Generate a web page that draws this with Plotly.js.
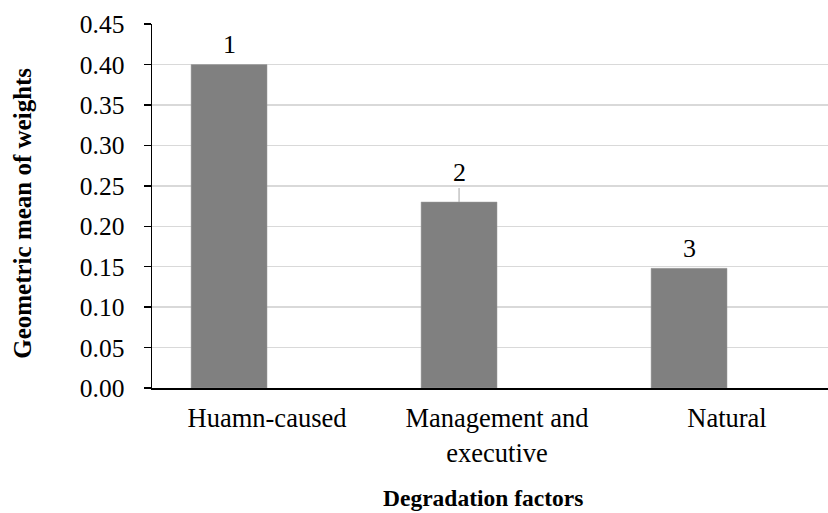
<!DOCTYPE html>
<html>
<head>
<meta charset="utf-8">
<script src="https://cdn.plot.ly/plotly-3.0.1.min.js"></script>
<style>html,body{margin:0;padding:0;background:#fff;}#chart{width:828px;height:513px;}</style>
</head>
<body>
<div id="chart"></div>
<script>
// Data
const categories = ["Huamn-caused", "Management and<br>executive", "Natural"];
const values = [0.40, 0.23, 0.148];
const ranks = ["1", "2", "3"];
const yTickVals = [0, 0.05, 0.10, 0.15, 0.20, 0.25, 0.30, 0.35, 0.40, 0.45];
const yTickText = ["0.00", "0.05", "0.10", "0.15", "0.20", "0.25", "0.30", "0.35", "0.40", "0.45"];
const xTitle = "Degradation factors";
const yTitle = "Geometric mean of weights";

const xs = categories.map((c, i) => i);
const barW = 0.33;
const font = "Liberation Serif, Times New Roman, serif";

const trace = {
  type: "bar",
  x: xs,
  y: values,
  width: barW,
  offset: -barW,
  marker: { color: "#808080", line: { color: "#9a9a9a", width: 0.5 } },
  hoverinfo: "skip"
};

const annotations = values.map((v, i) => {
  const base = {
    x: xs[i] - barW / 2, y: v, xref: "x", yref: "y",
    text: ranks[i],
    font: { family: font, size: 26, color: "#000" }
  };
  if (i === 1) {
    return Object.assign(base, {
      showarrow: true, arrowhead: 0, arrowwidth: 1, arrowcolor: "#a6a6a6",
      ax: 0, ay: -30, standoff: 0, startstandoff: 0
    });
  }
  return Object.assign(base, { showarrow: false, yanchor: "middle", yshift: 20 });
});

annotations.push({
  xref: "paper", yref: "paper", x: 0.49, y: 0, yshift: -110,
  xanchor: "center", yanchor: "middle", showarrow: false,
  text: "<b>" + xTitle + "</b>",
  font: { family: font, size: 23.5, color: "#000" }
});
annotations.push({
  xref: "paper", yref: "paper", x: 0, y: 0.48, xshift: -129.5,
  xanchor: "center", yanchor: "middle", showarrow: false, textangle: -90,
  text: "<b>" + yTitle + "</b>",
  font: { family: font, size: 25, color: "#000" }
});

const layout = {
  width: 828, height: 513,
  margin: { l: 152, r: 0, t: 24, b: 125 },
  paper_bgcolor: "#fff", plot_bgcolor: "#fff",
  showlegend: false,
  font: { family: font, color: "#000" },
  xaxis: {
    range: [-0.5, -0.5 + 676 / 230],
    tickmode: "array", tickvals: xs, ticktext: categories,
    tickfont: { family: font, size: 26.5, color: "#000" },
    showgrid: false, zeroline: false,
    showline: true, linecolor: "#000", linewidth: 1.5,
    ticks: "", ticklabelstandoff: 6
  },
  yaxis: {
    range: [0, 0.4502],
    tickmode: "array", tickvals: yTickVals, ticktext: yTickText,
    tickfont: { family: font, size: 25.5, color: "#000" },
    showgrid: true, gridcolor: "#d9d9d9", gridwidth: 1.5,
    zeroline: false,
    showline: true, linecolor: "#000", linewidth: 1.5,
    ticks: "outside", ticklen: 7, tickcolor: "#000", tickwidth: 1.5,
    ticklabelstandoff: 14
  },
  annotations: annotations
};

Plotly.newPlot("chart", [trace], layout, { displayModeBar: false, staticPlot: true });
</script>
</body>
</html>
